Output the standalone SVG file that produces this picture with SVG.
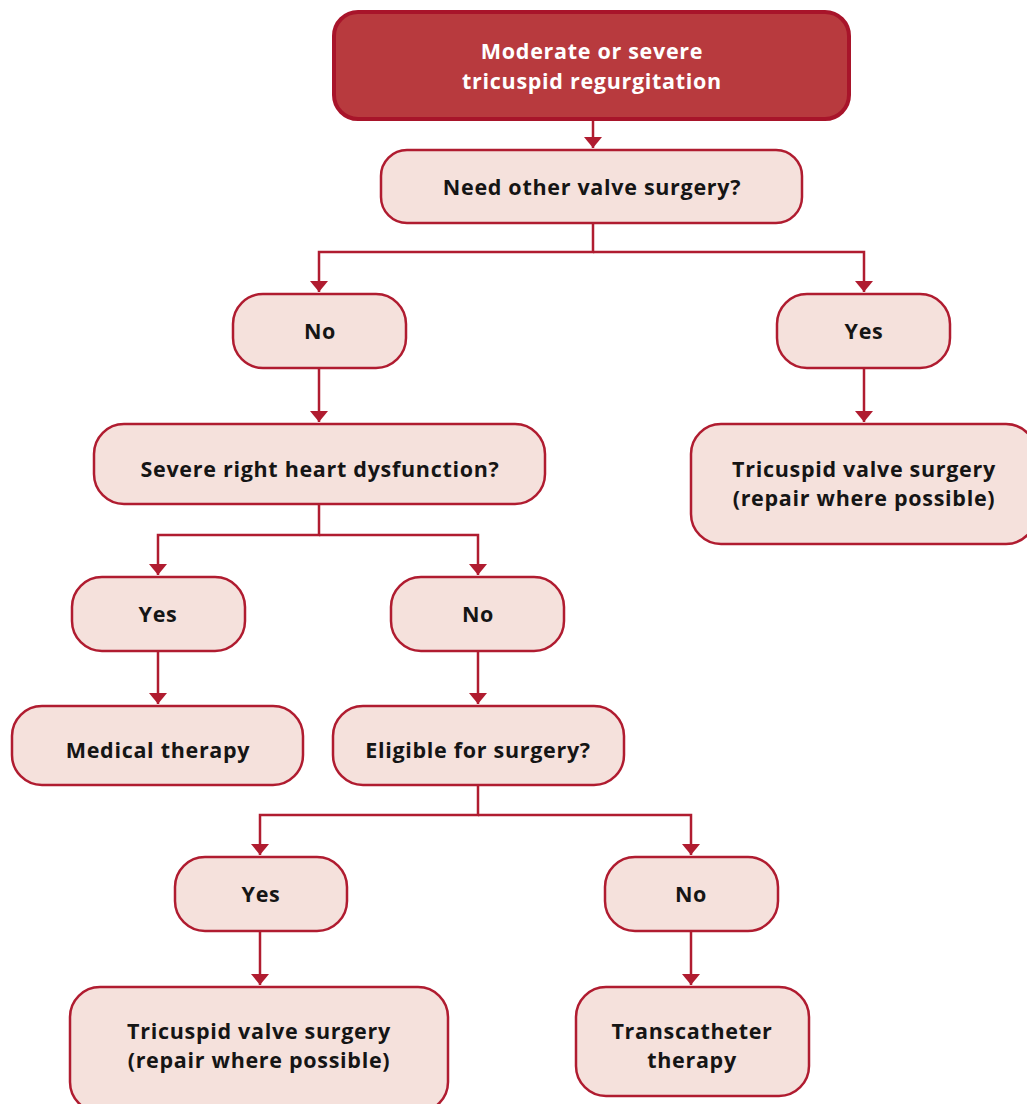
<svg xmlns="http://www.w3.org/2000/svg" width="1027" height="1104" viewBox="0 0 1027 1104">
<style>
.n rect{fill:#f5e1dc;stroke:#b01c30;stroke-width:2.5}
.t{font-family:"Open Sans","Liberation Sans",sans-serif;font-weight:700;font-size:21.5px;letter-spacing:0.7px;fill:#151515;text-anchor:middle}
.w{fill:#fff}
.c{fill:none;stroke:#b01c30;stroke-width:2.5}
</style>
<defs>
<marker id="a" viewBox="0 0 11 18" refX="11" refY="9" markerWidth="11" markerHeight="18" markerUnits="userSpaceOnUse" orient="auto">
<path d="M0,0 L11,9 L0,18 Z" fill="#b01c30"/>
</marker>
</defs>
<rect width="1027" height="1104" fill="#fff"/>
<g id="connectors">
<path class="c" d="M593,120 V148" marker-end="url(#a)"/>
<path class="c" d="M593,223 V252 H319 V292" marker-end="url(#a)"/>
<path class="c" d="M593,252 H864 V292" marker-end="url(#a)"/>
<path class="c" d="M319,368 V422" marker-end="url(#a)"/>
<path class="c" d="M864,368 V422" marker-end="url(#a)"/>
<path class="c" d="M319,504 V535 H158 V575" marker-end="url(#a)"/>
<path class="c" d="M319,535 H478 V575" marker-end="url(#a)"/>
<path class="c" d="M158,651 V704" marker-end="url(#a)"/>
<path class="c" d="M478,651 V704" marker-end="url(#a)"/>
<path class="c" d="M478,785 V815 H260 V855" marker-end="url(#a)"/>
<path class="c" d="M478,815 H691 V855" marker-end="url(#a)"/>
<path class="c" d="M260,931 V985" marker-end="url(#a)"/>
<path class="c" d="M691,931 V985" marker-end="url(#a)"/>
</g>
<g id="start">
<rect x="334" y="12" width="515" height="107" rx="24" fill="#b83a3e" stroke="#a8142a" stroke-width="4"/>
<text class="t w" x="592" y="59">Moderate or severe</text>
<text class="t w" x="592" y="89">tricuspid regurgitation</text>
</g>
<g id="q1" class="n"><rect x="381" y="150" width="421" height="73" rx="26"/><text class="t" x="592" y="195">Need other valve surgery?</text></g>
<g id="no1" class="n"><rect x="233" y="294" width="173" height="74" rx="30"/><text class="t" x="320" y="339">No</text></g>
<g id="yes1" class="n"><rect x="777" y="294" width="173" height="74" rx="30"/><text class="t" x="864" y="339">Yes</text></g>
<g id="q2" class="n"><rect x="94" y="424" width="451" height="80" rx="30"/><text class="t" x="320" y="477">Severe right heart dysfunction?</text></g>
<g id="tvs1" class="n"><rect x="691" y="424" width="345" height="120" rx="30"/><text class="t" x="864" y="477">Tricuspid valve surgery</text><text class="t" x="864" y="506">(repair where possible)</text></g>
<g id="yes2" class="n"><rect x="72" y="577" width="173" height="74" rx="30"/><text class="t" x="158" y="622">Yes</text></g>
<g id="no2" class="n"><rect x="391" y="577" width="173" height="74" rx="30"/><text class="t" x="478" y="622">No</text></g>
<g id="med" class="n"><rect x="12" y="706" width="291" height="79" rx="30"/><text class="t" x="158" y="758">Medical therapy</text></g>
<g id="q3" class="n"><rect x="333" y="706" width="291" height="79" rx="30"/><text class="t" x="478" y="758">Eligible for surgery?</text></g>
<g id="yes3" class="n"><rect x="175" y="857" width="172" height="74" rx="30"/><text class="t" x="261" y="902">Yes</text></g>
<g id="no3" class="n"><rect x="605" y="857" width="173" height="74" rx="30"/><text class="t" x="691" y="902">No</text></g>
<g id="tvs2" class="n"><rect x="70" y="987" width="378" height="125" rx="30"/><text class="t" x="259" y="1039">Tricuspid valve surgery</text><text class="t" x="259" y="1068">(repair where possible)</text></g>
<g id="tct" class="n"><rect x="576" y="987" width="233" height="109" rx="30"/><text class="t" x="692" y="1039">Transcatheter</text><text class="t" x="692" y="1068">therapy</text></g>
</svg>
